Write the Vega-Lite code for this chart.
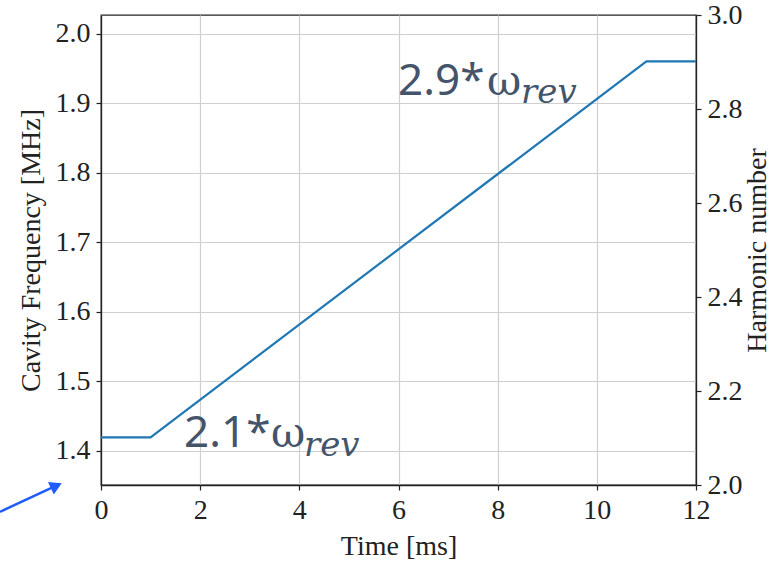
{
  "$schema": "https://vega.github.io/schema/vega-lite/v6.json",
  "width": 595,
  "height": 470,
  "autosize": {"type": "none"},
  "padding": {"left": 101, "top": 15, "right": 76, "bottom": 76},
  "background": "white",
  "view": {"stroke": "#222", "strokeWidth": 1.3},
  "config": {
    "font": "Liberation Serif",
    "axis": {
      "labelFont": "Liberation Serif",
      "titleFont": "Liberation Serif",
      "labelFontSize": 28,
      "titleFontSize": 28,
      "titleFontWeight": "normal",
      "labelColor": "#222",
      "titleColor": "#222",
      "domainColor": "#222",
      "domainWidth": 1.3,
      "tickColor": "#222",
      "tickSize": 5,
      "tickWidth": 1.2,
      "gridColor": "#cfcfcf",
      "gridWidth": 1.2
    }
  },
  "datasets": {
    "ramp": [
      {"t": 0, "f": 1.4196, "h": 2.1},
      {"t": 1, "f": 1.4196, "h": 2.1},
      {"t": 11, "f": 1.9604, "h": 2.9},
      {"t": 12, "f": 1.9604, "h": 2.9}
    ],
    "main": [
      {"x": 5.99, "f": 1.912, "text": "2.9*"},
      {"x": 1.674, "f": 1.4062, "text": "2.1*"}
    ],
    "omega": [
      {"x": 7.785, "f": 1.912, "text": "ω"},
      {"x": 3.429, "f": 1.4062, "text": "ω"}
    ],
    "sub": [
      {"x": 8.471, "f": 1.9, "text": "rev"},
      {"x": 4.094, "f": 1.392, "text": "rev"}
    ],
    "arrow": [
      {"x": -2.037, "f": 1.3125},
      {"x": -0.902, "f": 1.350}
    ],
    "head": [
      {"x": -0.902, "f": 1.350}
    ]
  },
  "layer": [
    {
      "layer": [
        {
          "data": {"name": "ramp"},
          "mark": {"type": "line", "color": "#1f77b4", "strokeWidth": 2.2, "clip": true},
          "encoding": {
            "x": {
              "field": "t", "type": "quantitative",
              "scale": {"domain": [0, 12], "nice": false, "zero": false},
              "axis": {"title": "Time [ms]", "values": [0, 2, 4, 6, 8, 10, 12], "format": "d", "labelPadding": 6, "titlePadding": 8, "labelFlush": false}
            },
            "y": {
              "field": "f", "type": "quantitative",
              "scale": {"domain": [1.351, 2.027], "nice": false, "zero": false},
              "axis": {"title": "Cavity Frequency [MHz]", "values": [1.4, 1.5, 1.6, 1.7, 1.8, 1.9, 2.0], "format": ".1f", "labelPadding": 6, "titlePadding": 10}
            }
          }
        },
        {
          "data": {"name": "main"},
          "mark": {"type": "text", "font": "Noto Sans", "fontSize": 44, "color": "#44546A", "align": "left", "baseline": "alphabetic", "clip": false},
          "encoding": {
            "x": {"field": "x", "type": "quantitative"},
            "y": {"field": "f", "type": "quantitative"},
            "text": {"field": "text"}
          }
        },
        {
          "data": {"name": "omega"},
          "mark": {"type": "text", "font": "DejaVu Serif", "fontSize": 42, "color": "#44546A", "align": "left", "baseline": "alphabetic", "clip": false},
          "encoding": {
            "x": {"field": "x", "type": "quantitative"},
            "y": {"field": "f", "type": "quantitative"},
            "text": {"field": "text"}
          }
        },
        {
          "data": {"name": "sub"},
          "mark": {"type": "text", "font": "DejaVu Serif", "fontStyle": "italic", "fontSize": 34, "color": "#44546A", "align": "left", "baseline": "alphabetic", "clip": false},
          "encoding": {
            "x": {"field": "x", "type": "quantitative"},
            "y": {"field": "f", "type": "quantitative"},
            "text": {"field": "text"}
          }
        },
        {
          "data": {"name": "arrow"},
          "mark": {"type": "line", "color": "#1f5cff", "strokeWidth": 2.5, "clip": false},
          "encoding": {
            "x": {"field": "x", "type": "quantitative"},
            "y": {"field": "f", "type": "quantitative"}
          }
        },
        {
          "data": {"name": "head"},
          "mark": {"type": "point", "shape": "triangle-up", "filled": true, "color": "#1f5cff", "opacity": 1, "size": 190, "angle": 65, "clip": false},
          "encoding": {
            "x": {"field": "x", "type": "quantitative"},
            "y": {"field": "f", "type": "quantitative"}
          }
        }
      ]
    },
    {
      "data": {"name": "ramp"},
      "mark": {"type": "line", "opacity": 0},
      "encoding": {
        "x": {"field": "t", "type": "quantitative"},
        "y": {
          "field": "h", "type": "quantitative",
          "scale": {"domain": [2, 3], "nice": false, "zero": false},
          "axis": {"orient": "right", "title": "Harmonic number", "grid": false, "values": [2.0, 2.2, 2.4, 2.6, 2.8, 3.0], "format": ".1f", "labelPadding": 6, "titlePadding": 1, "titleAngle": 270, "titleBaseline": "top"}
        }
      }
    }
  ],
  "resolve": {"scale": {"y": "independent"}}
}
